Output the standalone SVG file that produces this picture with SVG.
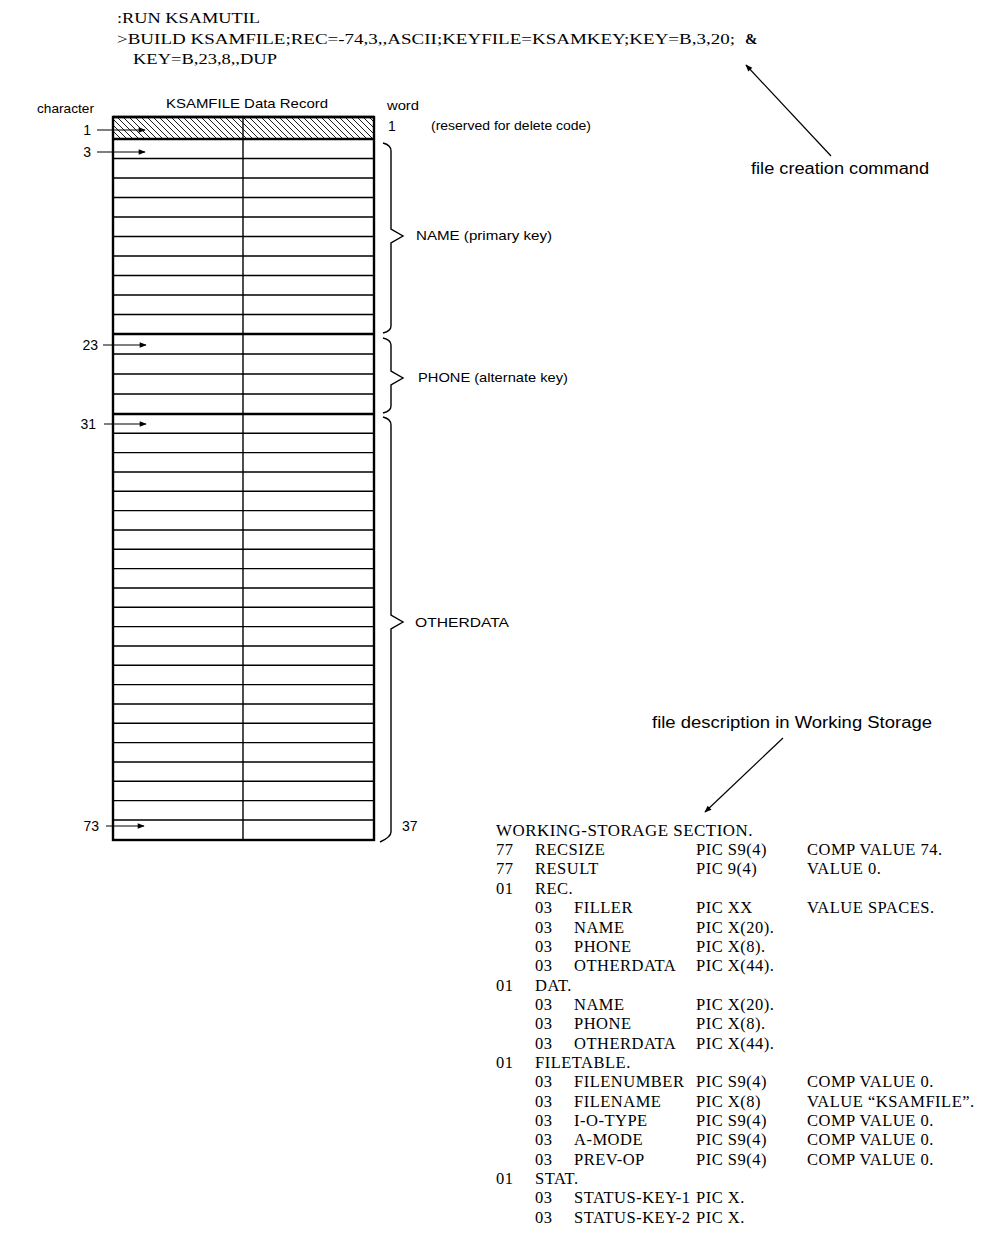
<svg xmlns="http://www.w3.org/2000/svg" width="1006" height="1254" viewBox="0 0 1006 1254">
<style>
.cmd{font-family:"Liberation Serif","Times New Roman",serif;font-size:15px;fill:#000}
.cob{font-family:"Liberation Serif","Times New Roman",serif;font-size:16.5px;letter-spacing:0.5px;fill:#000}
.lbl{font-family:"Liberation Sans",Arial,sans-serif;font-size:13px;fill:#000}
.num{font-family:"Liberation Sans",Arial,sans-serif;font-size:14px;fill:#000}
.cap{font-family:"Liberation Sans",Arial,sans-serif;font-size:16px;fill:#000}
.row{stroke:#000;stroke-width:1.4;fill:none}
.thick{stroke:#000;stroke-width:2.4;fill:none}
.brace{stroke:#000;stroke-width:1.4;fill:none}
.conn{stroke:#000;stroke-width:1.2;fill:none}
</style>
<defs>
<pattern id="hatch" patternUnits="userSpaceOnUse" width="6" height="6">
<path d="M-1,-1 L7,7 M-1,5 L1,7 M5,-1 L7,1" stroke="#000" stroke-width="0.9"/>
</pattern>
<marker id="ah" viewBox="0 0 10 10" refX="9" refY="5" markerWidth="10" markerHeight="7" markerUnits="userSpaceOnUse" orient="auto">
<path d="M0,1 L10,5 L0,9 z" fill="#000"/>
</marker>
<marker id="ahL" viewBox="0 0 10 10" refX="9" refY="5" markerWidth="10" markerHeight="7" markerUnits="userSpaceOnUse" orient="auto">
<path d="M0,1 L10,5 L0,9 z" fill="#000"/>
</marker>
</defs>

<g id="command">
<text class="cmd" x="117" y="23" textLength="143" lengthAdjust="spacingAndGlyphs">:RUN KSAMUTIL</text>
<text class="cmd" x="117" y="44" textLength="618" lengthAdjust="spacingAndGlyphs">&gt;BUILD KSAMFILE;REC=-74,3,,ASCII;KEYFILE=KSAMKEY;KEY=B,3,20;</text>
<text class="cmd" x="745" y="44" font-weight="bold">&amp;</text>
<text class="cmd" x="133" y="64" textLength="144" lengthAdjust="spacingAndGlyphs">KEY=B,23,8,,DUP</text>
</g>

<g id="record-labels">
<text class="lbl" x="37" y="113" textLength="57" lengthAdjust="spacingAndGlyphs">character</text>
<text class="lbl" x="166" y="108" textLength="162" lengthAdjust="spacingAndGlyphs">KSAMFILE Data Record</text>
<text class="lbl" x="387" y="110" textLength="32" lengthAdjust="spacingAndGlyphs">word</text>
<text class="num" x="388" y="131">1</text>
<text class="lbl" x="431" y="130" textLength="160" lengthAdjust="spacingAndGlyphs">(reserved for delete code)</text>
</g>

<g id="record">
<rect x="113" y="117" width="261" height="22" fill="url(#hatch)"/>
<path class="row" d="M113,158.5H374 M113,178H374 M113,197.5H374 M113,217H374 M113,236.5H374 M113,256H374 M113,275.5H374 M113,295H374 M113,314.5H374
M113,354H374 M113,374H374 M113,394H374
M113,433.3H374 M113,452.6H374 M113,472H374 M113,491.3H374 M113,510.6H374 M113,530H374 M113,549.3H374 M113,568.6H374 M113,588H374 M113,607.3H374 M113,626.6H374 M113,646H374 M113,665.3H374 M113,684.6H374 M113,704H374 M113,723.3H374 M113,742.6H374 M113,762H374 M113,781.3H374 M113,800.6H374 M113,820H374"/>
<path class="thick" d="M113,117H374 M113,139H374 M113,334H374 M113,414H374"/>
<path class="row" d="M243,117V840"/>
<rect class="thick" x="113" y="117" width="261" height="723"/>
</g>

<g id="char-arrows">
<text class="num" x="91" y="135" text-anchor="end">1</text>
<text class="num" x="91" y="157" text-anchor="end">3</text>
<text class="num" x="98" y="350" text-anchor="end">23</text>
<text class="num" x="96" y="429" text-anchor="end">31</text>
<text class="num" x="99" y="831" text-anchor="end">73</text>
<path class="conn" marker-end="url(#ah)" d="M97,130H145"/>
<path class="conn" marker-end="url(#ah)" d="M97,152H145"/>
<path class="conn" marker-end="url(#ah)" d="M103,345H146"/>
<path class="conn" marker-end="url(#ah)" d="M104,424H146"/>
<path class="conn" marker-end="url(#ah)" d="M106,826H144"/>
</g>

<g id="name-field">
<path class="brace" d="M383,143 Q391,145 391,151 V229 L403,236 L391,243 V326 Q391,331 383,333"/>
<text class="lbl" x="416" y="240" textLength="136" lengthAdjust="spacingAndGlyphs">NAME (primary key)</text>
</g>
<g id="phone-field">
<path class="brace" d="M383,338 Q391,340 391,345 V371 L403,378 L391,385 V406 Q391,411 383,413"/>
<text class="lbl" x="418" y="382" textLength="150" lengthAdjust="spacingAndGlyphs">PHONE (alternate key)</text>
</g>
<g id="otherdata-field">
<path class="brace" d="M383,417 Q391,419 391,425 V615 L403,622 L391,629 V832 Q391,837 380,842"/>
<text class="lbl" x="415" y="627" textLength="94" lengthAdjust="spacingAndGlyphs">OTHERDATA</text>
<text class="num" x="402" y="831">37</text>
</g>

<g id="caption-command">
<text class="cap" x="751" y="174" textLength="178" lengthAdjust="spacingAndGlyphs">file creation command</text>
</g>
<g id="caption-ws">
<text class="cap" x="652" y="728" textLength="280" lengthAdjust="spacingAndGlyphs">file description in Working Storage</text>
</g>

<g id="connectors">
<path class="conn" marker-end="url(#ahL)" d="M831,156 L746,65"/>
<path class="conn" marker-end="url(#ahL)" d="M783,738 L705,812"/>
</g>

<g id="working-storage" class="cob">
<text x="496" y="836" textLength="257" lengthAdjust="spacingAndGlyphs">WORKING-STORAGE SECTION.</text>
<text x="496" y="855">77</text><text x="535" y="855">RECSIZE</text><text x="696" y="855">PIC S9(4)</text><text x="807" y="855">COMP VALUE 74.</text>
<text x="496" y="874">77</text><text x="535" y="874">RESULT</text><text x="696" y="874">PIC 9(4)</text><text x="807" y="874">VALUE 0.</text>
<text x="496" y="894">01</text><text x="535" y="894">REC.</text>
<text x="535" y="913">03</text><text x="574" y="913">FILLER</text><text x="696" y="913">PIC XX</text><text x="807" y="913">VALUE SPACES.</text>
<text x="535" y="933">03</text><text x="574" y="933">NAME</text><text x="696" y="933">PIC X(20).</text>
<text x="535" y="952">03</text><text x="574" y="952">PHONE</text><text x="696" y="952">PIC X(8).</text>
<text x="535" y="971">03</text><text x="574" y="971">OTHERDATA</text><text x="696" y="971">PIC X(44).</text>
<text x="496" y="991">01</text><text x="535" y="991">DAT.</text>
<text x="535" y="1010">03</text><text x="574" y="1010">NAME</text><text x="696" y="1010">PIC X(20).</text>
<text x="535" y="1029">03</text><text x="574" y="1029">PHONE</text><text x="696" y="1029">PIC X(8).</text>
<text x="535" y="1049">03</text><text x="574" y="1049">OTHERDATA</text><text x="696" y="1049">PIC X(44).</text>
<text x="496" y="1068">01</text><text x="535" y="1068">FILETABLE.</text>
<text x="535" y="1087">03</text><text x="574" y="1087">FILENUMBER</text><text x="696" y="1087">PIC S9(4)</text><text x="807" y="1087">COMP VALUE 0.</text>
<text x="535" y="1107">03</text><text x="574" y="1107">FILENAME</text><text x="696" y="1107">PIC X(8)</text><text x="807" y="1107">VALUE “KSAMFILE”.</text>
<text x="535" y="1126">03</text><text x="574" y="1126">I-O-TYPE</text><text x="696" y="1126">PIC S9(4)</text><text x="807" y="1126">COMP VALUE 0.</text>
<text x="535" y="1145">03</text><text x="574" y="1145">A-MODE</text><text x="696" y="1145">PIC S9(4)</text><text x="807" y="1145">COMP VALUE 0.</text>
<text x="535" y="1165">03</text><text x="574" y="1165">PREV-OP</text><text x="696" y="1165">PIC S9(4)</text><text x="807" y="1165">COMP VALUE 0.</text>
<text x="496" y="1184">01</text><text x="535" y="1184">STAT.</text>
<text x="535" y="1203">03</text><text x="574" y="1203">STATUS-KEY-1</text><text x="696" y="1203">PIC X.</text>
<text x="535" y="1223">03</text><text x="574" y="1223">STATUS-KEY-2</text><text x="696" y="1223">PIC X.</text>
</g>
</svg>
